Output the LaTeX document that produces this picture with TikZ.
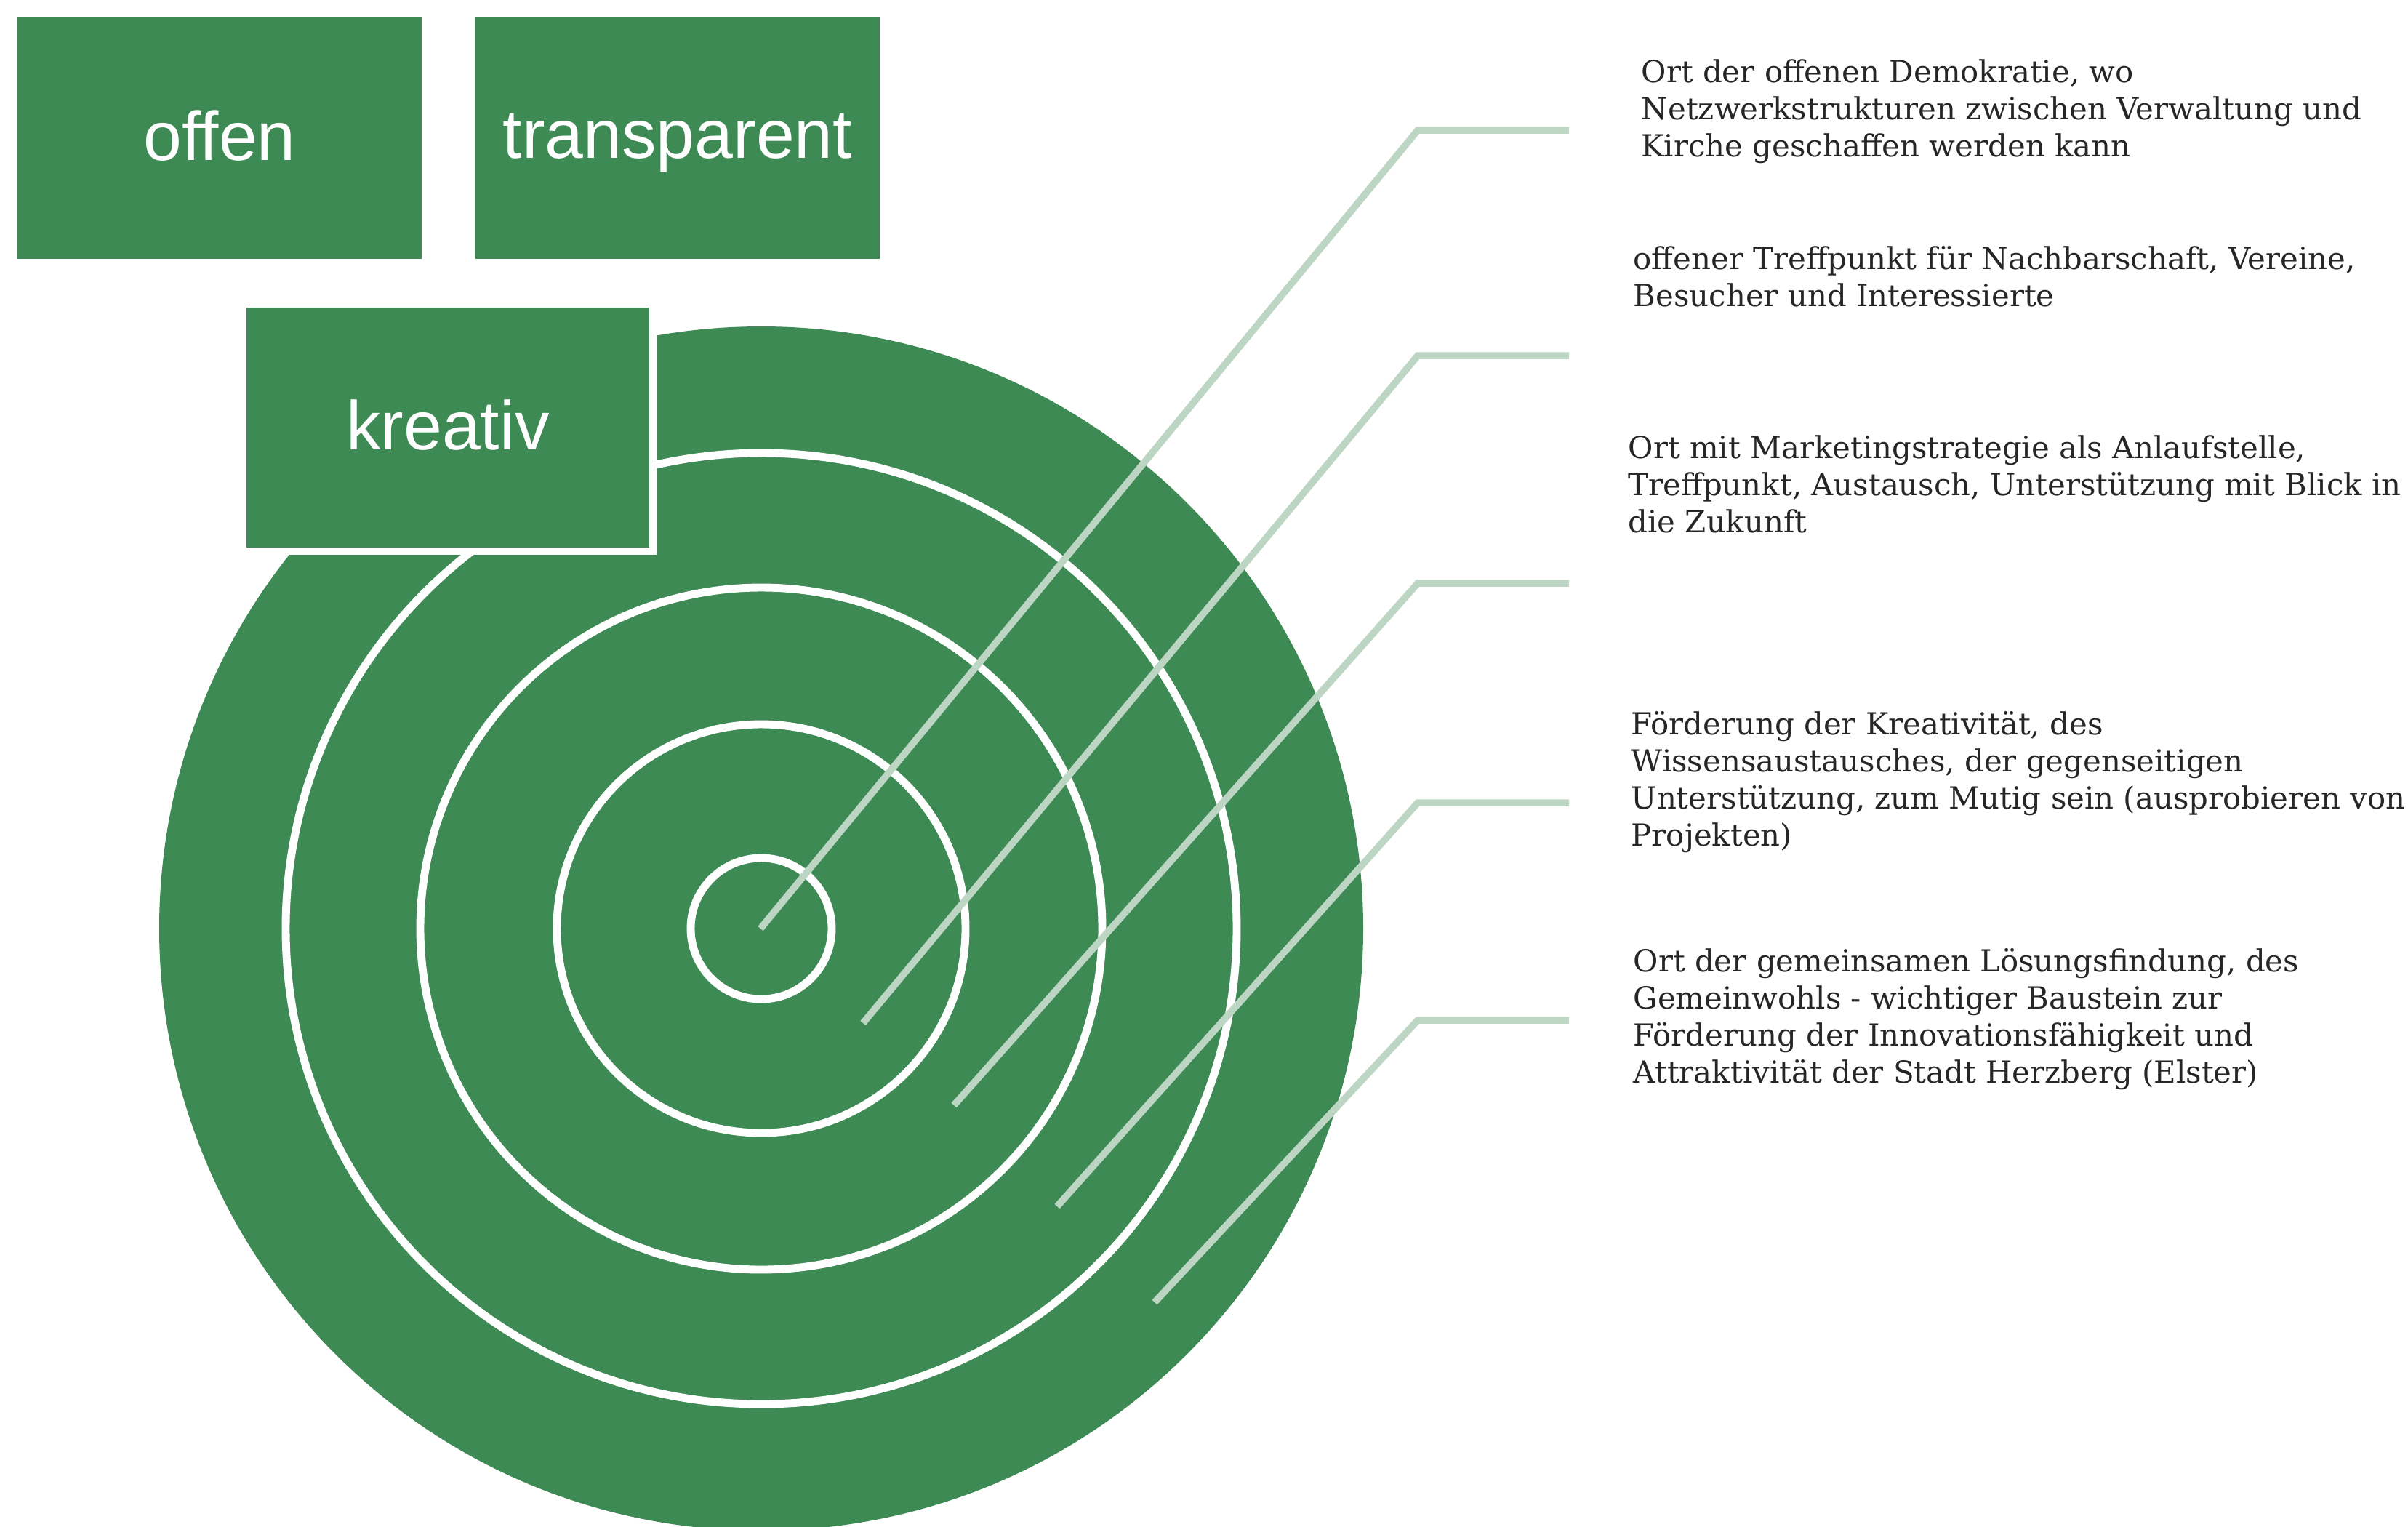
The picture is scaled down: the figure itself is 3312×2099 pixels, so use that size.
\documentclass[tikz,border=0pt]{standalone}
\usepackage{fontspec}
\setmainfont{DejaVu Serif}
\setsansfont{Liberation Sans}
\definecolor{kreisgruen}{HTML}{3E8A54}
\definecolor{linie}{HTML}{BDD6C4}
\begin{document}
\begin{tikzpicture}[x=0.01cm,y=-0.01cm,
  feld/.style={fill=kreisgruen,text=white,minimum width=5.56cm,minimum height=3.31cm,inner sep=0pt,text depth=0.21em,font=\sffamily\fontsize{27}{30}\selectfont},
  ring/.style={draw=white,line width=3.1pt},
  zeiger/.style={draw=linie,line width=2.7pt},
  notiz/.style={anchor=north west,align=left,inner sep=0pt,text=black!85,font=\fontsize{11.9}{14.5}\selectfont}]
  \useasboundingbox (0,0) rectangle (3312,2099);
  \fill[kreisgruen] (1047,1277) circle [radius=828];
  \foreach \r in {654,469,281,97}
    \draw[ring] (1047,1277) circle [radius=\r];
  \node[feld] (offen) at (302,190) {offen};
  \node[feld] (transparent) at (932,190) {transparent};
  \node[feld,draw=white,line width=2.85pt,minimum width=5.64cm,minimum height=3.39cm] (kreativ) at (616,588) {kreativ};
  \foreach \i/\sx/\sy/\ey in {1/1046/1277/179,2/1187/1407/489,3/1312/1520/802,4/1454/1659/1104,5/1588/1791/1403} {
    \coordinate (p\i) at (\sx,\sy);
    \coordinate (k\i) at (1950,\ey);
    \coordinate (q\i) at (2158,\ey);
    \draw[zeiger] (p\i) -- (k\i) -- (q\i);
  }
  \node[notiz] (t1) at (2257,81) {Ort der offenen Demokratie, wo\\Netzwerkstrukturen zwischen Verwaltung und\\Kirche geschaffen werden kann};
  \node[notiz] (t2) at (2246,338) {offener Treffpunkt für Nachbarschaft, Vereine,\\Besucher und Interessierte};
  \node[notiz] (t3) at (2239,598) {Ort mit Marketingstrategie als Anlaufstelle,\\Treffpunkt, Austausch, Unterstützung mit Blick in\\die Zukunft};
  \node[notiz] (t4) at (2243,978) {Förderung der Kreativität, des\\Wissensaustausches, der gegenseitigen\\Unterstützung, zum Mutig sein (ausprobieren von\\Projekten)};
  \node[notiz] (t5) at (2246,1304) {Ort der gemeinsamen Lösungsfindung, des\\Gemeinwohls - wichtiger Baustein zur\\Förderung der Innovationsfähigkeit und\\Attraktivität der Stadt Herzberg (Elster)};
\end{tikzpicture}
\end{document}
